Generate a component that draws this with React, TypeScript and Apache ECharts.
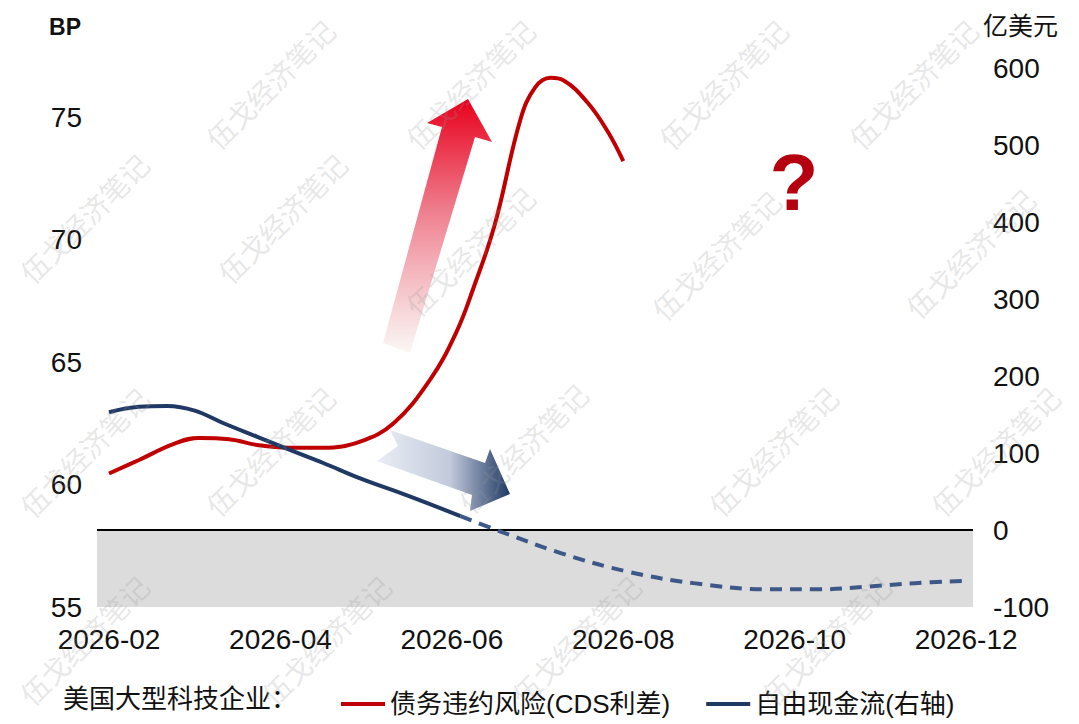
import React, { useEffect, useRef } from "react";
import * as echarts from "echarts";

// ---- data (month of 2026 as x) ----
const xTickMonths = [2, 4, 6, 8, 10, 12];
const cdsSpread: [number, number][] = [
  [2.0, 60.45], [2.35, 61.0], [2.75, 61.65], [3.05, 61.9], [3.4, 61.85], [3.75, 61.6],
  [4.1, 61.5], [4.5, 61.5], [4.93, 61.75], [5.32, 62.5], [5.75, 64.3], [6.05, 66.2],
  [6.25, 68.0], [6.5, 70.6], [6.8, 74.9], [6.97, 76.2], [7.15, 76.6], [7.3, 76.5],
  [7.58, 75.6], [7.82, 74.4], [8.0, 73.2],
];
const fcfActual: [number, number][] = [
  [2.0, 153], [2.35, 160], [2.68, 161], [3.0, 155], [3.33, 139], [3.73, 121],
  [4.11, 104], [4.5, 87], [4.93, 67], [5.5, 44], [6.1, 18],
];
const fcfForecast: [number, number][] = [
  [6.1, 18], [6.57, -2], [7.27, -30], [8.05, -54], [8.82, -69], [9.7, -77],
  [10.3, -77], [10.8, -74], [11.4, -69], [12.0, -66],
];
const leftAxis = { min: 55, max: 77, interval: 5 };
const rightAxis = { min: -100, max: 600, interval: 100 };

const seriesNames = ["债务违约风险(CDS利差)", "自由现金流(右轴)"];
const legendPrefix = "美国大型科技企业：";
const watermarkText = "伍戈经济笔记";
const watermarkCenters: [number, number][] = [
  [270, 15], [470, 36], [723, 23], [913, 55],
  [68, 218], [282, 218], [470, 251], [716, 255], [970, 253],
  [67, 452], [270, 451], [523, 448], [773, 451], [1013, 451],
  [67, 652], [326, 648], [576, 648], [826, 648],
];

const FONT = "'Liberation Sans', Arial, 'Noto Sans CJK SC', sans-serif";
const W = 1079;
const H = 724;

export default function App() {
  const ref = useRef<HTMLDivElement>(null);
  useEffect(() => {
    if (!ref.current) return;
    const chart = echarts.init(ref.current, null, { renderer: "svg" });
    const pad = (m: number) => (m < 10 ? "0" + m : "" + m);
    const half = 84;
    const clamp = (v: number, lo: number, hi: number) => Math.max(lo, Math.min(hi, v));

    const watermarks = watermarkCenters.map(([x, y]) => ({
      type: "text",
      x: clamp(x, half, W - half),
      y: clamp(y, half, H - half),
      rotation: Math.PI / 4,
      z: 100,
      silent: true,
      style: {
        text: watermarkText,
        fill: "rgba(150,150,150,0.24)",
        font: "28px 'Noto Sans CJK SC', sans-serif",
        align: "center",
        verticalAlign: "middle",
      },
    }));

    chart.setOption({
      animation: false,
      backgroundColor: "#ffffff",
      grid: { left: 97, right: 106, top: 68, bottom: 117 },
      xAxis: {
        type: "value",
        min: 1.86,
        max: 12.08,
        axisLine: { show: false },
        axisTick: { show: false },
        splitLine: { show: false },
        axisLabel: {
          customValues: xTickMonths,
          formatter: (v: number) => "2026-" + pad(Math.round(v)),
          fontSize: 28,
          fontFamily: FONT,
          color: "#111",
          margin: 18,
        },
      },
      yAxis: [
        {
          type: "value",
          ...leftAxis,
          name: "BP",
          nameLocation: "end",
          nameGap: 30,
          nameTextStyle: {
            fontSize: 23,
            fontWeight: "bold",
            fontFamily: FONT,
            color: "#111",
            align: "right",
            padding: [0, 16, 0, 0],
          },
          axisLine: { show: false },
          axisTick: { show: false },
          splitLine: { show: false },
          axisLabel: {
            fontSize: 28,
            fontFamily: FONT,
            color: "#111",
            margin: 15,
            showMaxLabel: false,
          },
        },
        {
          type: "value",
          ...rightAxis,
          name: "亿美元",
          nameLocation: "end",
          nameGap: 30,
          nameTextStyle: {
            fontSize: 25,
            fontFamily: FONT,
            color: "#111",
            align: "left",
            padding: [0, 0, 0, 10],
          },
          axisLine: { show: false },
          axisTick: { show: false },
          splitLine: { show: false },
          axisLabel: { fontSize: 28, fontFamily: FONT, color: "#111", margin: 20 },
        },
      ],
      legend: {
        data: seriesNames,
        left: 336,
        top: 686,
        icon: "rect",
        itemWidth: 44,
        itemHeight: 4,
        itemGap: 36,
        textStyle: { fontSize: 26, fontFamily: FONT, color: "#111" },
      },
      graphic: [
        {
          type: "text",
          left: 63,
          top: 686,
          style: {
            text: legendPrefix,
            font: "26px " + FONT,
            fill: "#111",
          },
        },
        {
          type: "polygon",
          z: 10,
          shape: {
            points: [
              [468, 99], [492, 142], [475, 137], [410, 353], [383, 343], [442, 127], [427, 123],
            ],
          },
          style: {
            fill: new echarts.graphic.LinearGradient(0, 0, 0, 1, [
              { offset: 0, color: "#e8001c" },
              { offset: 0.45, color: "#ef8190" },
              { offset: 1, color: "rgba(250,246,244,0.9)" },
            ]),
          },
        },
        {
          type: "polygon",
          z: 10,
          shape: {
            points: [
              [390, 430], [485, 463], [490, 449], [510, 494], [470, 511], [472, 495],
              [377, 461], [398, 446],
            ],
          },
          style: {
            fill: new echarts.graphic.LinearGradient(0, 0, 1, 0, [
              { offset: 0, color: "#e9edf4" },
              { offset: 0.55, color: "#c2cadb" },
              { offset: 1, color: "#1f3864" },
            ]),
          },
        },
        {
          type: "text",
          x: 794,
          y: 182,
          z: 10,
          style: {
            text: "?",
            font: "bold 80px 'Liberation Sans', Arial, sans-serif",
            fill: "#b5000f",
            align: "center",
            verticalAlign: "middle",
          },
        },
        ...watermarks,
      ],
      series: [
        {
          name: "zero-band",
          type: "line",
          yAxisIndex: 1,
          data: [],
          z: 1,
          silent: true,
          markArea: {
            silent: true,
            itemStyle: { color: "#dcdcdc" },
            data: [[{ yAxis: -100 }, { yAxis: 0 }]],
          },
          markLine: {
            silent: true,
            symbol: "none",
            label: { show: false },
            lineStyle: { color: "#000", width: 2, type: "solid" },
            data: [{ yAxis: 0 }],
          },
        },
        {
          name: seriesNames[0],
          type: "line",
          yAxisIndex: 0,
          data: cdsSpread,
          smooth: 0.4,
          symbol: "none",
          z: 5,
          lineStyle: { color: "#c00000", width: 4 },
          itemStyle: { color: "#c00000" },
        },
        {
          name: seriesNames[1],
          type: "line",
          yAxisIndex: 1,
          data: fcfActual,
          smooth: 0.4,
          symbol: "none",
          z: 5,
          lineStyle: { color: "#1f3864", width: 4 },
          itemStyle: { color: "#1f3864" },
        },
        {
          name: "自由现金流(预测)",
          type: "line",
          yAxisIndex: 1,
          data: fcfForecast,
          smooth: 0.4,
          symbol: "none",
          z: 5,
          lineStyle: { color: "#3d5789", width: 4, type: [12, 8] },
          itemStyle: { color: "#3d5789" },
        },
      ],
    });
    return () => chart.dispose();
  }, []);
  return (
    <div
      ref={ref}
      style={{ position: "fixed", left: 0, top: 0, width: W, height: H, background: "#fff" }}
    />
  );
}
